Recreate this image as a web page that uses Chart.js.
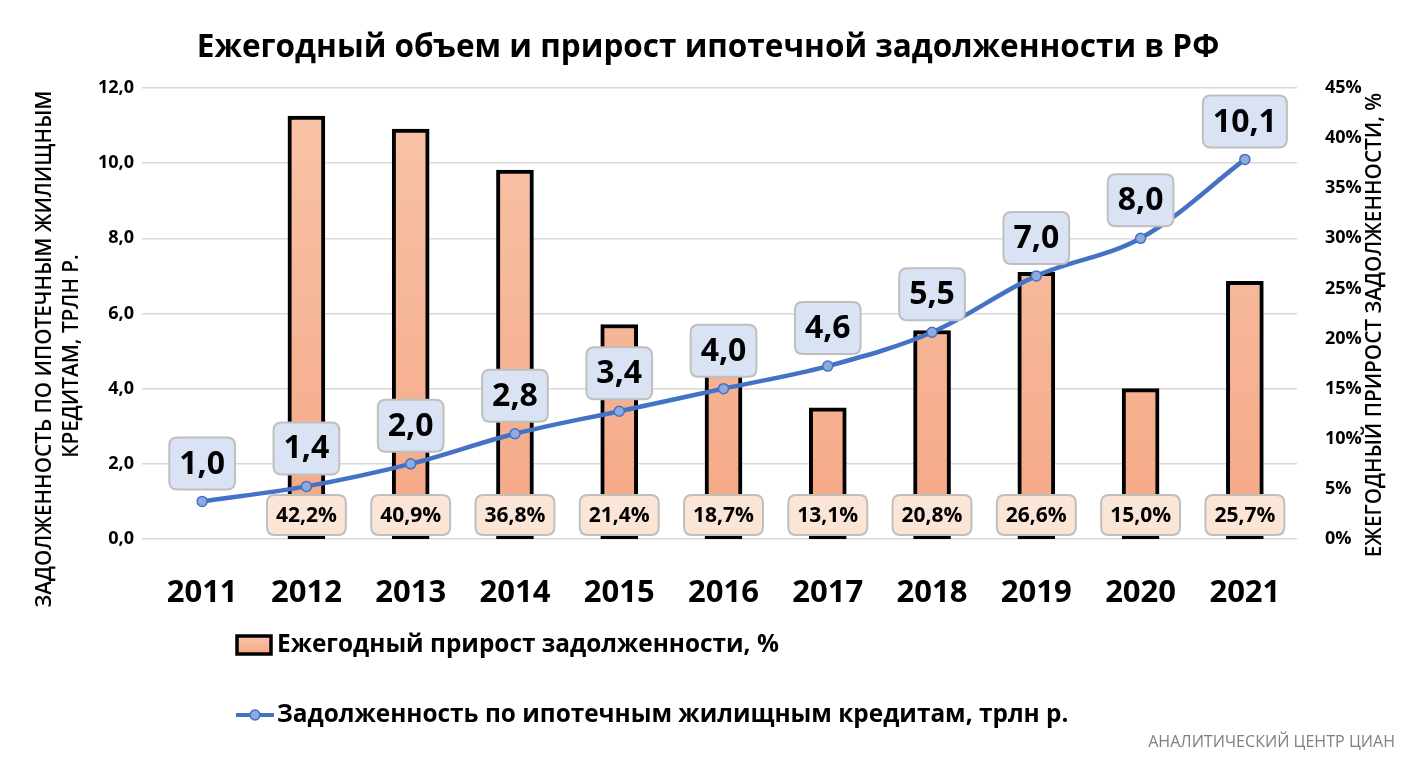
<!DOCTYPE html>
<html lang="ru">
<head>
  <meta charset="UTF-8">
  <title>Ежегодный объем и прирост ипотечной задолженности в РФ</title>
  <script src="https://cdn.jsdelivr.net/npm/chart.js"></script>
  <style>
    html, body { margin: 0; padding: 0; background: #fff; }
    #wrap { width: 1418px; height: 769px; }
  </style>
</head>
<body>
<div id="wrap"><canvas id="chart" width="1418" height="769"></canvas></div>

<script>
const years = ['2011', '2012', '2013', '2014', '2015', '2016', '2017', '2018', '2019', '2020', '2021'];
// задолженность, трлн р. (левая ось)
const debt = [1.0, 1.4, 2.0, 2.8, 3.4, 4.0, 4.6, 5.5, 7.0, 8.0, 10.1];
// ежегодный прирост, % (правая ось)
const growth = [null, 42.2, 40.9, 36.8, 21.4, 18.7, 13.1, 20.8, 26.6, 15.0, 25.7];

const titleText = 'Ежегодный объем и прирост ипотечной задолженности в РФ';
const leftTitle = ['ЗАДОЛЖЕННОСТЬ ПО ИПОТЕЧНЫМ ЖИЛИЩНЫМ', 'КРЕДИТАМ, ТРЛН Р.'];
const rightTitle = 'ЕЖЕГОДНЫЙ ПРИРОСТ ЗАДОЛЖЕННОСТИ, %';
const barLegend = 'Ежегодный прирост задолженности, %';
const lineLegend = 'Задолженность по ипотечным жилищным кредитам, трлн р.';
const sourceText = 'АНАЛИТИЧЕСКИЙ ЦЕНТР ЦИАН';

const FONT = "'Open Sans', 'Noto Sans', sans-serif";
const fmt = v => v.toFixed(1).replace('.', ',');
const fmtPct = v => v.toFixed(1).replace('.', ',') + '%';

// font size that makes text about targetW wide
function fitSize(ctx, text, weight, targetW) {
  ctx.font = weight + ' 100px ' + FONT;
  return 100 * targetW / ctx.measureText(text).width;
}

function roundRect(ctx, x, y, w, h, r) {
  ctx.beginPath();
  ctx.moveTo(x + r, y);
  ctx.lineTo(x + w - r, y);
  ctx.quadraticCurveTo(x + w, y, x + w, y + r);
  ctx.lineTo(x + w, y + h - r);
  ctx.quadraticCurveTo(x + w, y + h, x + w - r, y + h);
  ctx.lineTo(x + r, y + h);
  ctx.quadraticCurveTo(x, y + h, x, y + h - r);
  ctx.lineTo(x, y + r);
  ctx.quadraticCurveTo(x, y, x + r, y);
  ctx.closePath();
}

function labelBox(ctx, cx, cy, text, size, padX, h, fill) {
  ctx.font = 'bold ' + size + 'px ' + FONT;
  const w = ctx.measureText(text).width + padX * 2;
  roundRect(ctx, cx - w / 2, cy - h / 2, w, h, 8);
  ctx.fillStyle = fill;
  ctx.fill();
  ctx.lineWidth = 2;
  ctx.strokeStyle = '#BFBFBF';
  ctx.stroke();
  ctx.fillStyle = '#000';
  ctx.textAlign = 'center';
  ctx.textBaseline = 'middle';
  ctx.fillText(text, cx, cy + 1);
}

function barGradient(ctx, top, bottom) {
  const g = ctx.createLinearGradient(0, top, 0, bottom);
  g.addColorStop(0, '#F8C4AA');
  g.addColorStop(1, '#F5A886');
  return g;
}

const labelsPlugin = {
  id: 'labels',
  afterDatasetsDraw(chart) {
    const ctx = chart.ctx;
    const area = chart.chartArea;
    ctx.save();
    // подписи столбцов
    chart.getDatasetMeta(1).data.forEach((bar, i) => {
      if (growth[i] == null) return;
      labelBox(ctx, bar.x, area.bottom - 24, fmtPct(growth[i]), 21, 9, 40, '#FBE5D6');
    });
    // подписи линии
    chart.getDatasetMeta(0).data.forEach((pt, i) => {
      labelBox(ctx, pt.x, pt.y - 12 - 26, fmt(debt[i]), 32, 10, 52, '#DAE3F3');
    });
    ctx.restore();
  },
  afterDraw(chart) {
    const ctx = chart.ctx;
    ctx.save();
    ctx.fillStyle = '#000';

    // заголовок
    let s = fitSize(ctx, titleText, 'bold', 1023);
    ctx.font = 'bold ' + s + 'px ' + FONT;
    ctx.textAlign = 'center';
    ctx.textBaseline = 'alphabetic';
    ctx.fillText(titleText, 708, 57);

    // подписи осей
    s = fitSize(ctx, leftTitle[0], '600', 517);
    ctx.font = '600 ' + s + 'px ' + FONT;
    ctx.textBaseline = 'middle';
    [[leftTitle[0], 45, 349], [leftTitle[1], 72, 356], [rightTitle, 1375, 325]].forEach(([t, x, y]) => {
      ctx.save();
      ctx.translate(x, y);
      ctx.rotate(-Math.PI / 2);
      ctx.fillText(t, 0, 0);
      ctx.restore();
    });

    // легенда
    ctx.fillStyle = barGradient(ctx, 636, 654);
    ctx.fillRect(237, 636, 34, 18);
    ctx.lineWidth = 3.5;
    ctx.strokeStyle = '#000';
    ctx.strokeRect(237, 636, 34, 18);

    ctx.beginPath();
    ctx.moveTo(236, 715);
    ctx.lineTo(274, 715);
    ctx.lineWidth = 4;
    ctx.strokeStyle = '#4472C4';
    ctx.stroke();
    ctx.beginPath();
    ctx.arc(255, 715, 5, 0, Math.PI * 2);
    ctx.fillStyle = '#8FAADC';
    ctx.fill();
    ctx.lineWidth = 1.5;
    ctx.stroke();

    s = fitSize(ctx, barLegend, 'bold', 502);
    ctx.font = 'bold ' + s + 'px ' + FONT;
    ctx.fillStyle = '#000';
    ctx.textAlign = 'left';
    ctx.fillText(barLegend, 277, 645);
    ctx.fillText(lineLegend, 277, 715);

    // источник
    s = fitSize(ctx, sourceText, 'normal', 247);
    ctx.font = 'normal ' + s + 'px ' + FONT;
    ctx.fillStyle = '#7F7F7F';
    ctx.textAlign = 'right';
    ctx.fillText(sourceText, 1395, 742);
    ctx.restore();
  }
};

const chart = new Chart(document.getElementById('chart'), {
  type: 'bar',
  data: {
    labels: years,
    datasets: [
      {
        type: 'line',
        label: lineLegend,
        data: debt,
        yAxisID: 'y',
        order: 0,
        borderColor: '#4472C4',
        borderWidth: 4.5,
        tension: 0.35,
        pointRadius: 5,
        pointBackgroundColor: '#8FAADC',
        pointBorderColor: '#4472C4',
        pointBorderWidth: 1.5
      },
      {
        type: 'bar',
        label: barLegend,
        data: growth,
        yAxisID: 'y1',
        order: 1,
        backgroundColor: c => {
          const a = c.chart.chartArea;
          if (!a) return '#F6B394';
          return barGradient(c.chart.ctx, a.top, a.bottom);
        },
        borderColor: '#000',
        borderWidth: 4,
        borderSkipped: false,
        barThickness: 37
      }
    ]
  },
  options: {
    responsive: false,
    animation: false,
    layout: { padding: { top: 88, bottom: 150, left: 0, right: 0 } },
    plugins: {
      legend: { display: false },
      tooltip: { enabled: false }
    },
    scales: {
      x: {
        grid: { display: false },
        border: { display: false },
        ticks: { color: '#000', font: { family: FONT, size: 31, weight: 'bold' }, padding: 28 },
        afterFit: s => { s.height = 80; }
      },
      y: {
        position: 'left',
        min: 0,
        max: 12,
        ticks: {
          stepSize: 2,
          callback: v => fmt(v),
          color: '#000',
          font: { family: FONT, size: 18, weight: 'bold' },
          padding: 8
        },
        grid: { color: '#D9D9D9', lineWidth: 1.5, tickLength: 8 },
        border: { display: false },
        afterFit: s => { s.width = 150; }
      },
      y1: {
        position: 'right',
        min: 0,
        max: 45,
        ticks: {
          stepSize: 5,
          callback: v => v + '%',
          color: '#000',
          font: { family: FONT, size: 18, weight: 'bold' },
          padding: 20
        },
        grid: { display: false },
        border: { display: false },
        afterFit: s => { s.width = 121; }
      }
    }
  },
  plugins: [labelsPlugin]
});
</script>
</body>
</html>
